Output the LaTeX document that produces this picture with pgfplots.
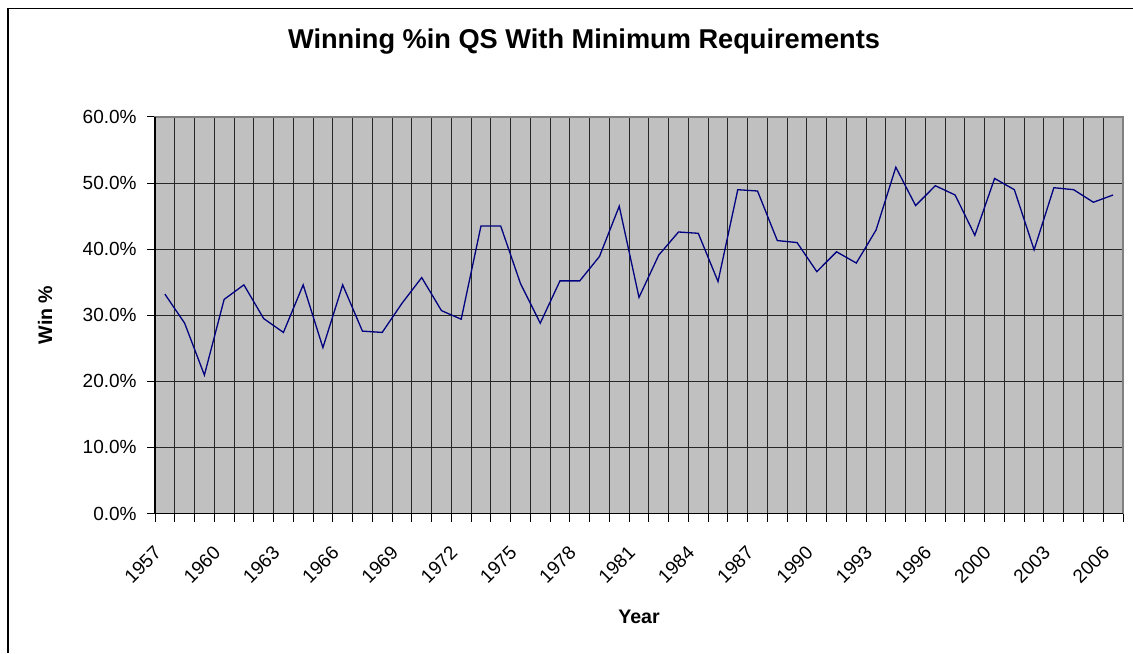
\documentclass[border=0pt]{standalone}
\usepackage{pgfplots}
\pgfplotsset{compat=1.18}
\usepackage{fontspec}
\setmainfont{Liberation Sans}
\definecolor{plotgray}{HTML}{C0C0C0}
\definecolor{navyline}{HTML}{000080}
\begin{document}
\begin{tikzpicture}
\useasboundingbox (0,0) rectangle (566.5pt,326.5pt);
\fill[white] (0,0) rectangle (566.5pt,326.5pt);
\draw[line width=0.8pt,black] (4pt,0) -- (4pt,322.25pt) -- (566.5pt,322.25pt);
\begin{axis}[
  scale only axis,
  width=484pt, height=198.25pt,
  at={(77.5pt,69.75pt)}, anchor=south west,
  xmin=-0.5, xmax=48.5, ymin=0, ymax=60,
  axis background/.style={fill=plotgray},
  axis line style={draw=gray, line width=0.6pt},
  xtick={0,3,...,48},
  xticklabels={1957,1960,1963,1966,1969,1972,1975,1978,1981,1984,1987,1990,1993,1996,2000,2003,2006},
  minor xtick={-0.5,0.5,...,48.5},
  major x tick style={draw=none},
  major tick length=4pt,
  minor tick length=4pt,
  tick align=outside,
  xtick pos=bottom, ytick pos=left,
  ytick={0,10,...,60},
  yticklabel={\pgfmathprintnumber[fixed,fixed zerofill,precision=1]{\tick}\%},
  /pgf/number format/assume math mode=true,
  major grid style={black!85, line width=0.5pt},
  minor grid style={black!85, line width=0.5pt},
  xminorgrids=true, xmajorgrids=false, ymajorgrids=true,
  every minor tick/.append style={black, line width=0.5pt},
  every major tick/.append style={black, line width=0.5pt},
  tick label style={font=\fontsize{9.5}{11}\selectfont, text=black},
  xticklabel style={inner sep=0pt, xshift=-6pt, yshift=-11.5pt, rotate=45, anchor=north east},
  yticklabel style={inner sep=0pt, anchor=east, xshift=-5pt},
  clip=false,
]
\addplot[navyline, line width=0.65pt, mark=none] coordinates {
(0,33.2) (1,28.8) (2,20.95) (3,32.4) (4,34.6) (5,29.5) (6,27.4) (7,34.6)
(8,25.1) (9,34.6) (10,27.6) (11,27.4) (12,31.8) (13,35.7) (14,30.7) (15,29.4)
(16,43.5) (17,43.5) (18,34.8) (19,28.8) (20,35.2) (21,35.2) (22,38.9) (23,46.5)
(24,32.7) (25,39.1) (26,42.6) (27,42.4) (28,35.1) (29,49.0) (30,48.8) (31,41.3)
(32,41.0) (33,36.6) (34,39.6) (35,37.9) (36,42.9) (37,52.4) (38,46.6) (39,49.6)
(40,48.2) (41,42.1) (42,50.7) (43,49.0) (44,39.9) (45,49.3) (46,49.0) (47,47.1)
(48,48.2)};
\draw[black, line width=0.6pt] (rel axis cs:0,1) -- (rel axis cs:0,0) -- (rel axis cs:1,0);
\end{axis}
\node[font=\bfseries\fontsize{13.6}{16}\selectfont] at (292pt,305.5pt) {Winning \%in QS With Minimum Requirements};
\node[font=\bfseries\fontsize{9.8}{11}\selectfont, rotate=90] at (22.5pt,169pt) {Win \%};
\node[font=\bfseries\fontsize{9.8}{11}\selectfont] at (319.5pt,18pt) {Year};
\end{tikzpicture}
\end{document}
